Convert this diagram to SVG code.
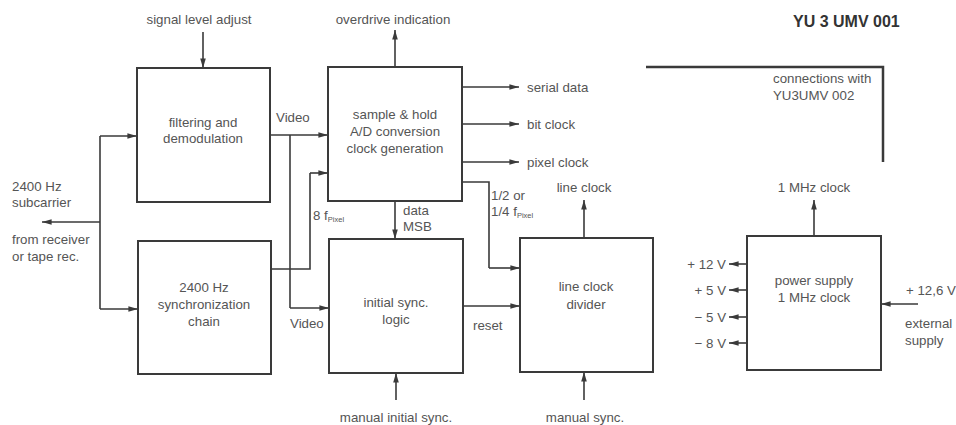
<svg xmlns="http://www.w3.org/2000/svg" width="956" height="425" viewBox="0 0 956 425">
<defs>
<marker id="ah" viewBox="0 0 12 10" refX="12" refY="5" markerWidth="12" markerHeight="8" markerUnits="userSpaceOnUse" orient="auto">
<path d="M0,1.5 L12,5 L0,8.5 z" fill="#3a3a3a"/>
</marker>
</defs>
<style>
.box{fill:#ffffff;stroke:#3a3a3a;stroke-width:2}
.ln{fill:none;stroke:#3a3a3a;stroke-width:1.6}
.ar{fill:none;stroke:#3a3a3a;stroke-width:1.6;marker-end:url(#ah)}
text{font-family:"Liberation Sans",Arial,sans-serif;font-size:13.3px;fill:#555}
.c{text-anchor:middle}
.e{text-anchor:end}
.sub{font-size:7.5px}
.title{font-size:16px;font-weight:bold;fill:#333}
</style>
<rect width="956" height="425" fill="#ffffff"/>

<g id="connectors">
<path class="ar" d="M203,32 V68"/>
<path class="ln" d="M100,136 V309"/>
<path class="ar" d="M100,136 H137"/>
<path class="ar" d="M100,309 H138"/>
<path class="ar" d="M100,222 H42"/>
<path class="ar" d="M270,135 H328"/>
<path class="ln" d="M290,135 V308"/>
<path class="ar" d="M290,308 H329"/>
<path class="ln" d="M271,269 H310 V173"/>
<path class="ar" d="M310,173 H328"/>
<path class="ar" d="M395,67 V30"/>
<path class="ar" d="M462,87 H519"/>
<path class="ar" d="M462,124 H519"/>
<path class="ar" d="M462,162 H519"/>
<path class="ar" d="M395,201 V239"/>
<path class="ln" d="M462,182 H489 V268"/>
<path class="ar" d="M489,268 H520"/>
<path class="ar" d="M463,306 H520"/>
<path class="ar" d="M584,238 V200"/>
<path class="ar" d="M396,400 V373"/>
<path class="ar" d="M584,400 V372"/>
<path class="ar" d="M814,236 V200"/>
<path class="ar" d="M747,264 H729"/>
<path class="ar" d="M747,290 H729"/>
<path class="ar" d="M747,317 H729"/>
<path class="ar" d="M747,343 H729"/>
<path class="ar" d="M918,304 H881"/>
<path d="M646,67 H883 V162" fill="none" stroke="#3a3a3a" stroke-width="2.5"/>
</g>

<g id="filtering">
<rect class="box" x="137" y="68" width="133" height="134"/>
<text class="c" x="203" y="127">filtering and</text>
<text class="c" x="203" y="143">demodulation</text>
</g>
<g id="sync-chain">
<rect class="box" x="138" y="241" width="133" height="133"/>
<text class="c" x="204" y="292">2400 Hz</text>
<text class="c" x="204" y="309">synchronization</text>
<text class="c" x="204" y="326">chain</text>
</g>
<g id="sample-hold">
<rect class="box" x="328" y="67" width="134" height="134"/>
<text class="c" x="395" y="119">sample &amp; hold</text>
<text class="c" x="395" y="136">A/D conversion</text>
<text class="c" x="395" y="153">clock generation</text>
</g>
<g id="initial-sync">
<rect class="box" x="329" y="239" width="134" height="134"/>
<text class="c" x="396" y="307">initial sync.</text>
<text class="c" x="396" y="324">logic</text>
</g>
<g id="line-clock-divider">
<rect class="box" x="520" y="238" width="133" height="134"/>
<text class="c" x="586" y="291">line clock</text>
<text class="c" x="586" y="309">divider</text>
</g>
<g id="power-supply">
<rect class="box" x="747" y="236" width="134" height="134"/>
<text class="c" x="814" y="285">power supply</text>
<text class="c" x="814" y="302">1 MHz clock</text>
</g>

<g id="labels">
<text class="title" x="793" y="27">YU 3 UMV 001</text>
<text class="c" x="199" y="24">signal level adjust</text>
<text class="c" x="393" y="24">overdrive indication</text>
<text x="12" y="191">2400 Hz</text>
<text x="12" y="207">subcarrier</text>
<text x="12" y="244">from receiver</text>
<text x="12" y="261">or tape rec.</text>
<text x="276" y="122">Video</text>
<text x="290" y="328">Video</text>
<text x="313" y="220">8 f<tspan class="sub" dy="2">Pixel</tspan></text>
<text x="527" y="92">serial data</text>
<text x="527" y="129">bit clock</text>
<text x="527" y="167">pixel clock</text>
<text x="403" y="215">data</text>
<text x="403" y="231">MSB</text>
<text x="491" y="200">1/2 or</text>
<text x="491" y="216">1/4 f<tspan class="sub" dy="2">Pixel</tspan></text>
<text x="473" y="330">reset</text>
<text class="c" x="584" y="192">line clock</text>
<text class="c" x="396" y="422">manual initial sync.</text>
<text class="c" x="585" y="422">manual sync.</text>
<text class="c" x="814" y="192">1 MHz clock</text>
<text class="e" x="726" y="269">+ 12 V</text>
<text class="e" x="726" y="295">+ 5 V</text>
<text class="e" x="726" y="322">− 5 V</text>
<text class="e" x="726" y="348">− 8 V</text>
<text x="906" y="295">+ 12,6 V</text>
<text x="905" y="328">external</text>
<text x="905" y="345">supply</text>
<text x="773" y="83">connections with</text>
<text x="773" y="100">YU3UMV 002</text>
</g>
</svg>
